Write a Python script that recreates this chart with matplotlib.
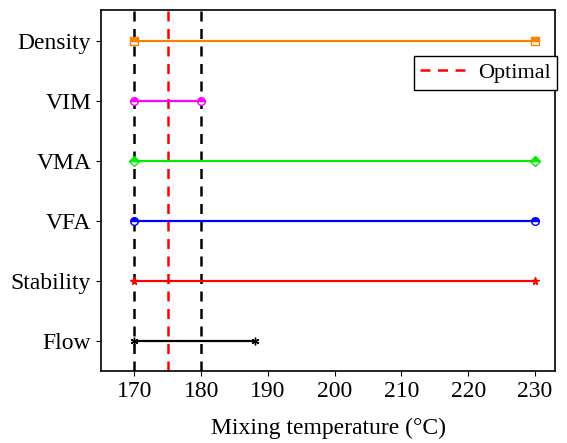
import matplotlib
matplotlib.use("Agg")
import matplotlib.pyplot as plt

plt.rcParams["font.family"] = ["Liberation Serif", "DejaVu Serif"]
plt.rcParams["mathtext.fontset"] = "stix"

# ── Data ───────────────────────────────────
properties = ["Flow", "Stability", "VFA", "VMA", "VIM", "Density"]
range_lo = [170, 170, 170, 170, 170, 170]
range_hi = [188, 230, 230, 230, 180, 230]
colors = ["black", "red", "blue", "#00ee00", "magenta", "#ff8000"]
markers = [(6, 2, 0), "*", "o", "D", "o", "s"]
guide_lines = [170, 180]
optimal = 175

fig, ax = plt.subplots(figsize=(5.67, 4.43), dpi=100)

for i, name in enumerate(properties):
    ax.plot([range_lo[i], range_hi[i]], [i, i], color=colors[i], linewidth=1.6,
            marker=markers[i], markersize=5.5, fillstyle="top",
            markerfacecoloralt="white", markeredgewidth=1, zorder=3)

dash = (0, (4, 3))
for g in guide_lines:
    ax.axvline(g, color="black", linestyle=dash, linewidth=1.8, zorder=2)
ax.axvline(optimal, color="red", linestyle=dash, linewidth=1.8, label="Optimal", zorder=2)

ax.set_yticks(range(len(properties)))
ax.set_yticklabels(properties)
ax.set_xticks(range(170, 231, 10))
ax.set_xlim(165, 233)
ax.set_ylim(-0.5, 5.52)
ax.set_xlabel("Mixing temperature (°C)", fontsize=17, labelpad=12)
ax.tick_params(labelsize=17)
for s in ax.spines.values():
    s.set_linewidth(1.2)

leg = ax.legend(loc="upper right", bbox_to_anchor=(1.005, 0.873), fontsize=16,
                fancybox=False, edgecolor="black", framealpha=1,
                borderaxespad=0, borderpad=0.3, handlelength=2.0,
                handletextpad=0.6)
leg.get_frame().set_linewidth(1.0)

fig.subplots_adjust(left=0.178, right=0.979, top=0.977, bottom=0.163)
fig.savefig("out.png", dpi=100)
